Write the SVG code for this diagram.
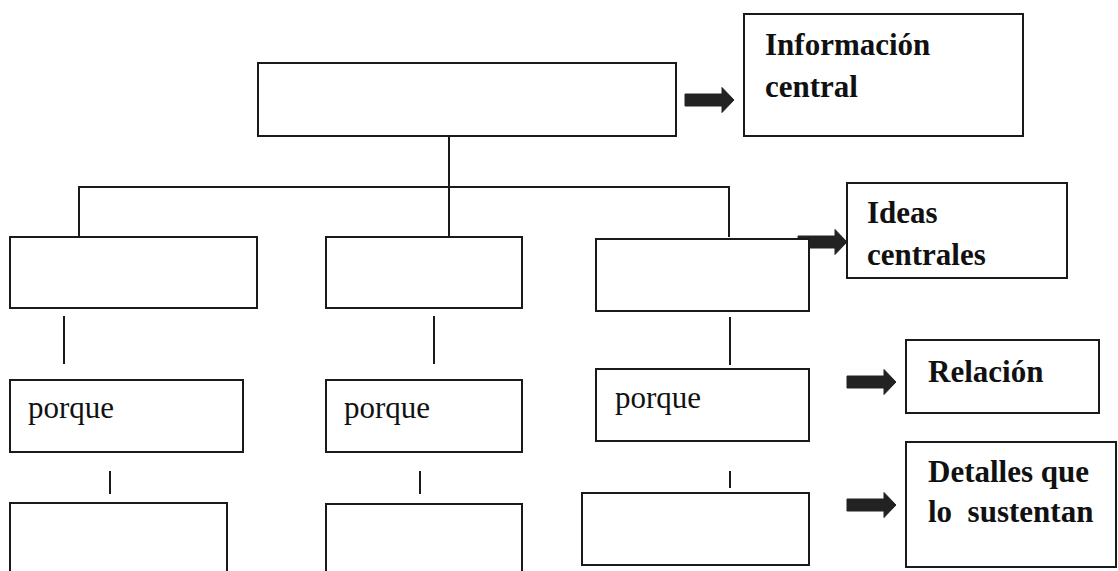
<svg xmlns="http://www.w3.org/2000/svg" xmlns:xlink="http://www.w3.org/1999/xlink" width="1118" height="571" viewBox="0 0 1118 571">
<style>
.box{fill:#fff;stroke:#1a1a1a;stroke-width:2}
.ln{stroke:#1a1a1a;stroke-width:2;fill:none}
.lbl{font-family:"Liberation Serif","Times New Roman",serif;font-size:31px;fill:#111;white-space:pre}
.b{font-weight:bold}
</style>
<defs>
<polygon id="arr" points="-49,-6 -12,-6 -12,-12.5 0,0 -12,12.5 -12,6 -49,6" fill="#222" stroke="#222" stroke-width="1" stroke-linejoin="round"/>
</defs>
<rect width="1118" height="571" fill="#fff"/>
<g id="connectors">
<line class="ln" x1="449" y1="136" x2="449" y2="237"/>
<polyline class="ln" points="79,237 79,187 729,187 729,237"/>
<line class="ln" x1="64" y1="316" x2="64" y2="364"/>
<line class="ln" x1="434" y1="316" x2="434" y2="364"/>
<line class="ln" x1="730" y1="317" x2="730" y2="365"/>
<line class="ln" x1="110" y1="471" x2="110" y2="494"/>
<line class="ln" x1="420" y1="471" x2="420" y2="494"/>
<line class="ln" x1="730" y1="471" x2="730" y2="488"/>
<use xlink:href="#arr" x="734" y="100"/>
<use xlink:href="#arr" x="847" y="242"/>
<use xlink:href="#arr" x="896" y="382"/>
<use xlink:href="#arr" x="896" y="505"/>
</g>
<g id="top"><rect class="box" x="258" y="63" width="418" height="73"/></g>
<g id="info"><rect class="box" x="744" y="14" width="279" height="122"/>
<text class="lbl b" x="765" y="55">Información</text>
<text class="lbl b" x="765" y="97">central</text></g>
<g id="l1"><rect class="box" x="10" y="237" width="247" height="71"/></g>
<g id="m1"><rect class="box" x="326" y="237" width="196" height="71"/></g>
<g id="r1"><rect class="box" x="596" y="239" width="213" height="72"/></g>
<g id="ideas"><rect class="box" x="847" y="183" width="220" height="95"/>
<text class="lbl b" x="867" y="223">Ideas</text>
<text class="lbl b" x="867" y="265">centrales</text></g>
<g id="l2"><rect class="box" x="10" y="380" width="233" height="72"/>
<text class="lbl" x="28" y="418">porque</text></g>
<g id="m2"><rect class="box" x="326" y="380" width="196" height="72"/>
<text class="lbl" x="344" y="418">porque</text></g>
<g id="r2"><rect class="box" x="596" y="369" width="213" height="72"/>
<text class="lbl" x="615" y="408">porque</text></g>
<g id="relacion"><rect class="box" x="906" y="340" width="193" height="73"/>
<text class="lbl b" x="928" y="382">Relación</text></g>
<g id="l3"><rect class="box" x="10" y="503" width="217" height="80"/></g>
<g id="m3"><rect class="box" x="326" y="504" width="196" height="80"/></g>
<g id="r3"><rect class="box" x="582" y="493" width="227" height="72"/></g>
<g id="detalles"><rect class="box" x="906" y="442" width="210" height="125"/>
<text class="lbl b" x="928" y="482">Detalles que</text>
<text class="lbl b" x="928" y="522">lo  sustentan</text></g>
</svg>
